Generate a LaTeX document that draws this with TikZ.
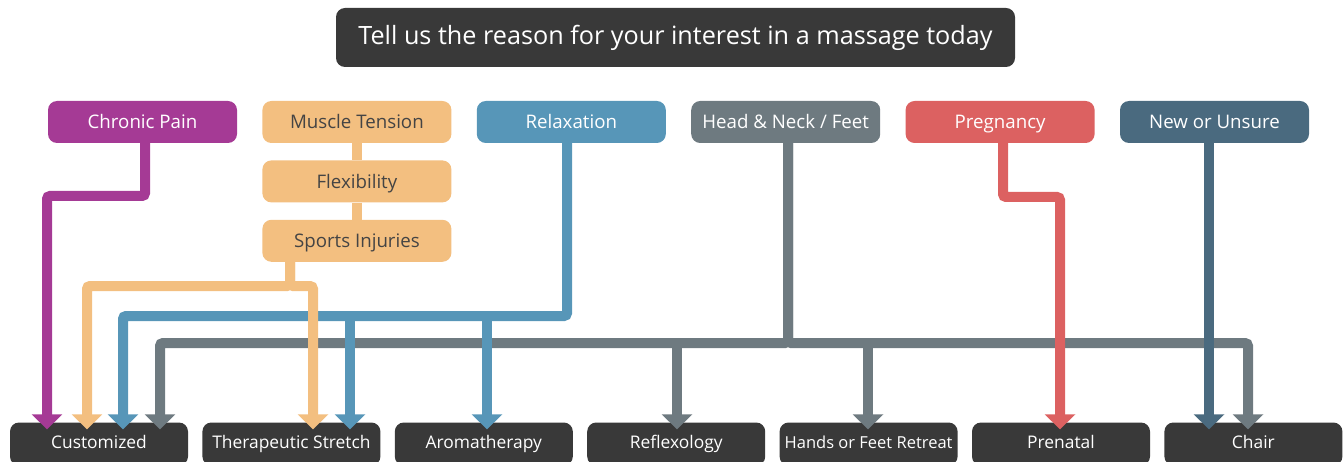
\documentclass[tikz,border=0pt]{standalone}
\usepackage{fontspec}
\setmainfont{Open Sans}
\usetikzlibrary{arrows.meta,positioning}

\definecolor{darkbox}{HTML}{393939}
\definecolor{painc}{HTML}{A53A95}
\definecolor{tensc}{HTML}{F3BF80}
\definecolor{relaxc}{HTML}{5796B8}
\definecolor{headc}{HTML}{6E7A80}
\definecolor{pregc}{HTML}{DC6161}
\definecolor{newc}{HTML}{4A6A7F}
\definecolor{tenstext}{HTML}{444444}

\begin{document}
\begin{tikzpicture}
[x=1pt, y=-1pt,
every node/.style = {shape=rectangle, rounded corners=9pt,
	align=center, inner sep=0pt,
},
reason/.style={minimum width=189pt, minimum height=42pt,
	text=white, text height=14pt, text depth=0pt,
	font=\fontsize{18.7}{22}\selectfont},
treat/.style={fill=darkbox, minimum width=178pt, minimum height=43pt,
	text=white, text height=13pt, text depth=4pt,
	font=\fontsize{17.4}{21}\selectfont},
link/.style={line width=10pt, rounded corners=3pt},
arr/.style={link, shorten >=-7pt, -{Triangle[width=30pt,length=15pt]}},
]
\useasboundingbox (0,0) rectangle (1343,462);

\node[fill=darkbox, minimum width=679pt, minimum height=59pt, text=white,
	font=\fontsize{25.2}{30}\selectfont] (title) at (675.5,37.5)
	{Tell us the reason for your interest in a massage today};

\node[reason, fill=painc] (cp) at (142.5,122) {Chronic Pain};
\node[reason, fill=tensc, text=tenstext, right=25pt of cp] (mt) {Muscle Tension};
\node[reason, fill=relaxc, right=25pt of mt] (rx) {Relaxation};
\node[reason, fill=headc, right=25pt of rx] (hn) {Head \& Neck / Feet};
\node[reason, fill=pregc, right=25pt of hn] (pg) {Pregnancy};
\node[reason, fill=newc, right=25pt of pg] (nu) {New or Unsure};
\node[reason, fill=tensc, text=tenstext, below=17pt of mt] (fl) {Flexibility};
\node[reason, fill=tensc, text=tenstext, below=17pt of fl] (si) {Sports Injuries};
\draw[link, tensc] (mt.south) -- (fl.north) (fl.south) -- (si.north);

\node[treat] (cu) at (99,444) {Customized};
\node[treat, right=14pt of cu] (ts) {Therapeutic Stretch};
\node[treat, right=14pt of ts] (ar) {Aromatherapy};
\node[treat, right=14pt of ar] (re) {Reflexology};
\node[treat, right=14pt of re, font=\fontsize{16.5}{20}\selectfont] (hf) {Hands or Feet Retreat};
\node[treat, right=14pt of hf] (pn) {Prenatal};
\node[treat, right=14pt of pn] (ch) {Chair};

\coordinate (g0) at (788,343);
\coordinate (g1) at (160,343);
\coordinate (g2) at (677,343);
\coordinate (g3) at (868,343);
\coordinate (g4) at (1248,343);
\draw[arr, headc] (hn.south -| g0) |- (g1) -- (g1 |- cu.north);
\draw[arr, headc] (hn.south -| g0) |- (g4) -- (g4 |- ch.north);
\draw[arr, headc] (g2) -- (g2 |- re.north);
\draw[arr, headc] (g3) -- (g3 |- hf.north);

\coordinate (b0) at (567,316);
\coordinate (b1) at (123,316);
\coordinate (b2) at (350,316);
\coordinate (b3) at (487,316);
\draw[arr, relaxc] (rx.south -| b0) |- (b1) -- (b1 |- cu.north);
\draw[arr, relaxc] (b2) -- (b2 |- ts.north);
\draw[arr, relaxc] (b3) -- (b3 |- ar.north);

\coordinate (o0) at (290,286);
\coordinate (o1) at (87,286);
\coordinate (o2) at (313,286);
\draw[arr, tensc] (si.south -| o0) |- (o1) -- (o1 |- cu.north);
\draw[arr, tensc] (si.south -| o0) |- (o2) -- (o2 |- ts.north);

\coordinate (r0) at (1003,197);
\coordinate (r1) at (1060,197);
\draw[arr, pregc] (pg.south -| r0) |- (r1) -- (r1 |- pn.north);

\coordinate (n0) at (1209,200);
\draw[arr, newc] (nu.south -| n0) -- (n0 |- ch.north);

\coordinate (m0) at (145,196);
\coordinate (m1) at (47,196);
\draw[arr, painc] (cp.south -| m0) |- (m1) -- (m1 |- cu.north);

\end{tikzpicture}
\end{document}
